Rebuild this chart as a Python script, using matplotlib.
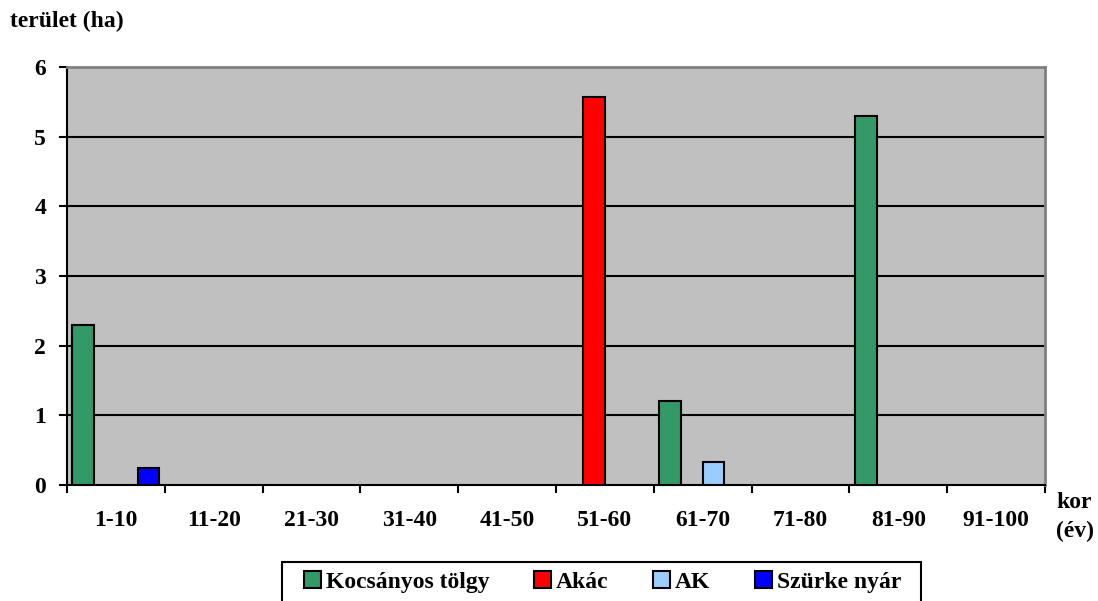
import numpy as np
from matplotlib import pyplot as plt
from matplotlib.patches import Patch, Rectangle

categories = ['1-10', '11-20', '21-30', '31-40', '41-50',
              '51-60', '61-70', '71-80', '81-90', '91-100']
series_names = ['Kocsányos tölgy', 'Akác', 'AK', 'Szürke nyár']
kocsanyos = [2.3, 0, 0, 0, 0, 0, 1.2, 0, 5.3, 0]
akac = [0, 0, 0, 0, 0, 5.57, 0, 0, 0, 0]
ak = [0, 0, 0, 0, 0, 0, 0.33, 0, 0, 0]
szurke = [0.25, 0, 0, 0, 0, 0, 0, 0, 0, 0]
colors = ['#339966', '#ff0000', '#99ccff', '#0000ff']

plt.rcParams['font.family'] = ['Liberation Serif', 'DejaVu Serif']
plt.rcParams['font.weight'] = 'bold'
FS = 17

W, H = 1098, 601
fig = plt.figure(figsize=(W / 100, H / 100), dpi=100)
ax = fig.add_axes([67 / W, (H - 485) / H, (1045 - 67) / W, (485 - 67) / H])
ax.set_facecolor('#c0c0c0')

x = np.arange(len(categories))
bw = 0.222
all_series = [kocsanyos, akac, ak, szurke]
for i, (vals, col) in enumerate(zip(all_series, colors)):
    pos = x + (i - 1.5) * bw
    v = np.array(vals, dtype=float)
    mask = v > 0
    ax.bar(pos[mask], v[mask], width=bw, color=col, edgecolor='black',
           linewidth=1.5, zorder=3)

ax.set_xlim(-0.5, len(categories) - 0.5)
ax.set_ylim(0, 6)
ax.set_yticks(range(7))
ax.set_yticklabels([str(i) for i in range(7)], fontsize=FS, fontweight='bold')
for yv in range(1, 6):
    ax.axhline(yv, color='black', lw=1.5, zorder=1)

# category labels centred, tick marks on boundaries
ax.set_xticks(x)
ax.set_xticklabels(categories, fontsize=FS, fontweight='bold')
ax.tick_params(axis='x', which='major', length=0, pad=18)
ax.set_xticks(np.arange(len(categories) + 1) - 0.5, minor=True)
ax.tick_params(axis='x', which='minor', length=6, width=1.5, direction='out')
ax.tick_params(axis='y', length=6, width=1.5, pad=9)

for s in ['left', 'bottom']:
    ax.spines[s].set_color('black')
    ax.spines[s].set_linewidth(1.5)
for s in ['top', 'right']:
    ax.spines[s].set_color('#808080')
    ax.spines[s].set_linewidth(2)

fig.text(10 / W, 1 - 21 / H, 'terület (ha)', fontsize=FS, fontweight='bold',
         ha='left', va='center')
fig.text(1074 / W, 1 - 503 / H, 'kor', fontsize=FS, fontweight='bold',
         ha='center', va='center')
fig.text(1075 / W, 1 - 531 / H, '(év)', fontsize=FS, fontweight='bold',
         ha='center', va='center')

# legend box drawn by hand (clipped by the figure bottom like the original)
fig.patches.append(Rectangle((282 / W, -0.02), (921 - 282) / W, 0.02 + (H - 562) / H,
                             transform=fig.transFigure, facecolor='white',
                             edgecolor='black', linewidth=1.5, zorder=0))
handles = [Patch(facecolor=c, edgecolor='black', linewidth=1.5) for c in colors]
leg = fig.legend(handles, series_names, loc='upper left',
                 bbox_to_anchor=(304 / W, 1 - 571 / H), ncol=4,
                 prop={'family': 'Liberation Serif', 'weight': 'bold', 'size': FS},
                 frameon=False, handlelength=0.72, handleheight=0.72,
                 handletextpad=0.2, columnspacing=1.9, borderpad=0,
                 borderaxespad=0)

plt.savefig('out.png', dpi=100)
